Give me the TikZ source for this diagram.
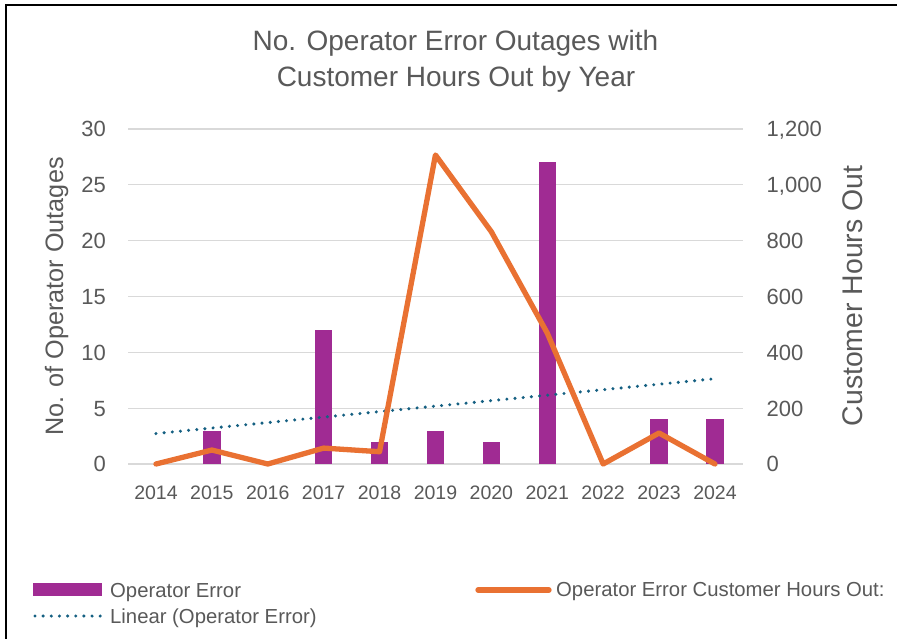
\documentclass[tikz,border=0pt]{standalone}
\usepackage{fontspec}
\setmainfont{Liberation Sans}

\definecolor{barpurple}{HTML}{A02B93}
\definecolor{hoursorange}{HTML}{E97132}
\definecolor{trendteal}{HTML}{156082}
\definecolor{labelgray}{HTML}{595959}
\definecolor{gridgray}{HTML}{D9D9D9}

\tikzset{
  gridline/.style={draw=gridgray, line width=1.3pt},
  opbar/.style={fill=barpurple},
  hoursline/.style={draw=hoursorange, line width=5.3pt, line cap=round, line join=round},
  trendline/.style={draw=trendteal, line width=3.4pt, line cap=round, dash pattern=on 0pt off 8.2pt},
  txt/.style={text=labelgray, inner sep=0pt},
  ticklbl/.style={txt, font=\fontsize{22}{24}\selectfont},
  yearlbl/.style={txt, font=\fontsize{19.5}{22}\selectfont},
  titlelbl/.style={txt, font=\fontsize{28}{32}\selectfont},
  legendlbl/.style={txt, font=\fontsize{20.3}{22}\selectfont, anchor=base west},
}

\begin{document}
\begin{tikzpicture}[x=1pt, y=-1pt]
\useasboundingbox (0,0) rectangle (897,639);
\fill[white] (0,0) rectangle (897,639);

% chart frame (top and left edges)
\draw[black, line width=2.2pt] (6,639) -- (6,5) -- (897,5);

% title
\node[titlelbl, anchor=base] (title1) at (455.5,51) {No. Operator Error Outages with};
\node[titlelbl, anchor=base] (title2) at (456,86.5) {Customer Hours Out by Year};

% horizontal gridlines and left axis labels
\foreach \k in {0,...,6} {
  \pgfmathsetmacro\gy{464-\k*55.8333}
  \pgfmathtruncatemacro\lab{5*\k}
  \draw[gridline] (128,\gy) -- (743,\gy);
  \node[ticklbl, anchor=base east] (yl\k) at (106,\gy+7.9) {\lab};
}

% right axis labels
\foreach \lab [count=\k from 0] in {0,200,400,600,800,{1,000},{1,200}} {
  \pgfmathsetmacro\gy{464-\k*55.8333}
  \node[ticklbl, anchor=base west] (yr\k) at (766.5,\gy+7.9) {\lab};
}

% axis titles
\node[txt, font=\fontsize{25.2}{28}\selectfont, rotate=90, anchor=base] (ytitleL) at (63,296.5) {No. of Operator Outages};
\node[txt, font=\fontsize{28.4}{32}\selectfont, rotate=90, anchor=base] (ytitleR) at (862,296) {Customer Hours Out};

% bars and year labels
\foreach \v [count=\i from 0] in {0,3,0,12,2,3,2,27,0,4,4} {
  \pgfmathsetmacro\cx{128+55.9*(\i+0.5)}
  \pgfmathtruncatemacro\yr{2014+\i}
  \ifnum\v>0
    \fill[opbar] (\cx-8.75,464) rectangle (\cx+8.75,464-\v*11.1667);
  \fi
  \node[yearlbl, anchor=base] (yr\yr) at (\cx,499) {\yr};
}

% linear trend of the bar values
\coordinate (t0) at (155.95,433.55);
\coordinate (t1) at (714.95,378.73);
\draw[trendline] (t0) -- (t1);

% customer hours out line (right axis)
\foreach \h [count=\i from 0] in {0,50,0,57,44,1107,832,469,0,111,0} {
  \coordinate (h\i) at ({128+55.9*(\i+0.5)},{464-\h*0.279167});
}
\draw[hoursline] (h0) \foreach \i in {1,...,10} { -- (h\i) };

% legend
\fill[opbar] (33,583.3) rectangle (102,596.3);
\node[legendlbl] (legbar) at (110,597.3) {Operator Error};
\coordinate (lt0) at (35,616);
\coordinate (lt1) at (100.5,616);
\draw[trendline, dash pattern=on 0pt off 8.15pt] (lt0) -- (lt1);
\node[legendlbl] (legtrend) at (110,623.3) {Linear (Operator Error)};
\coordinate (lh0) at (478,590);
\coordinate (lh1) at (549,590);
\draw[hoursline] (lh0) -- (lh1);
\node[legendlbl] (leghours) at (556,596.8) {Operator Error Customer Hours Out:};
\end{tikzpicture}
\end{document}
